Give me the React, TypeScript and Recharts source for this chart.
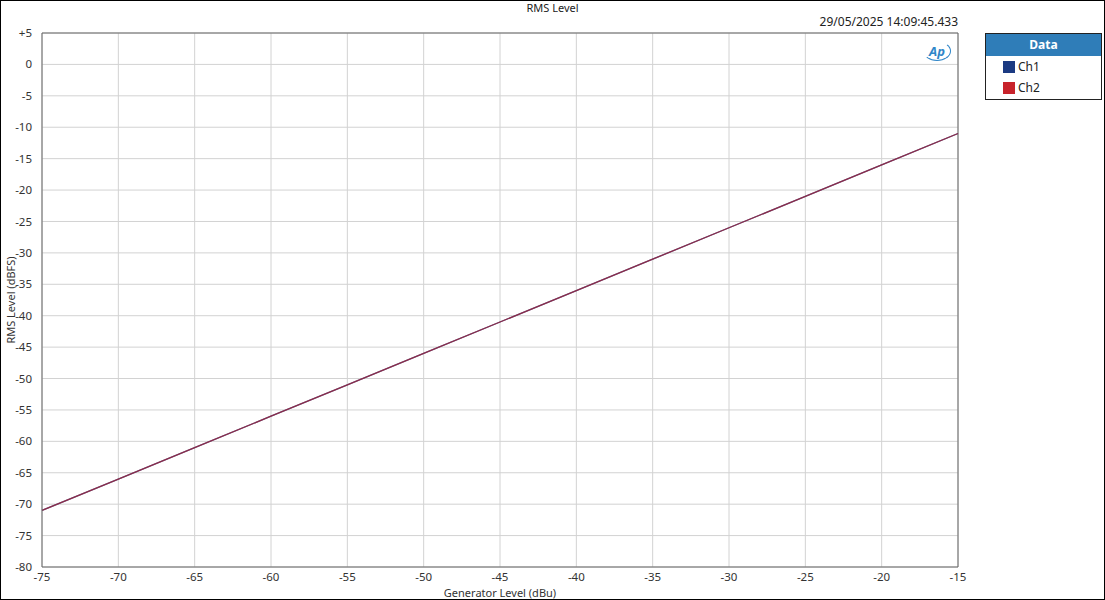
import React from 'react';
import {
  LineChart,
  Line,
  XAxis,
  YAxis,
  CartesianGrid,
  ReferenceLine,
} from 'recharts';

const GEN_LEVEL = [-75, -70, -65, -60, -55, -50, -45, -40, -35, -30, -25, -20, -15];
const CH1_RMS = [-71, -66, -61, -56, -51, -46, -41, -36, -31, -26, -21, -16, -11];
const CH2_RMS = [-71, -66, -61, -56, -51, -46, -41, -36, -31, -26, -21, -16, -11];
const X_TICKS = [-75, -70, -65, -60, -55, -50, -45, -40, -35, -30, -25, -20, -15];
const Y_TICKS = [-80, -75, -70, -65, -60, -55, -50, -45, -40, -35, -30, -25, -20, -15, -10, -5, 0, 5];

const SERIES = [
  { key: 'ch1', name: 'Ch1', color: '#1b3a82' },
  { key: 'ch2', name: 'Ch2', color: '#c8232b' },
];

const data = GEN_LEVEL.map((g, i) => ({ gen: g, ch1: CH1_RMS[i], ch2: CH2_RMS[i] }));

const FONT = '"Noto Sans", "Open Sans", sans-serif';

const LegendBox = () => (
  <div
    style={{
      position: 'absolute',
      left: 984,
      top: 32,
      width: 115,
      border: '1px solid #222',
      background: '#fff',
      fontFamily: FONT,
      fontSize: 12,
    }}
  >
    <div
      style={{
        background: '#2f7db8',
        color: '#fff',
        fontWeight: 'bold',
        textAlign: 'center',
        height: 22,
        lineHeight: '22px',
      }}
    >
      Data
    </div>
    <div style={{ padding: '0 0 1px 0' }}>
      {SERIES.map((s) => (
        <div key={s.key} style={{ display: 'flex', alignItems: 'center', height: 21, paddingLeft: 17 }}>
          <span style={{ width: 12, height: 12, background: s.color, display: 'inline-block', marginRight: 3 }} />
          <span style={{ color: '#222' }}>{s.name}</span>
        </div>
      ))}
    </div>
  </div>
);

export default function App() {
  return (
    <div
      style={{
        position: 'fixed',
        left: 0,
        top: 0,
        width: 1105,
        height: 600,
        boxSizing: 'border-box',
        border: '1px solid #000',
        background: '#fff',
        fontFamily: FONT,
      }}
    >
      <div style={{ position: 'absolute', left: 0, width: 1103, top: -1, textAlign: 'center', fontSize: 11, color: '#222' }}>
        RMS Level
      </div>
      <div style={{ position: 'absolute', right: 146, top: 12, fontSize: 12, color: '#222' }}>
        29/05/2025 14:09:45.433
      </div>
      <div
        style={{
          position: 'absolute',
          left: 922,
          top: 40,
          width: 26,
          height: 18,
          borderRadius: '50%',
          border: '1px solid #2f86c8',
          borderLeftColor: 'transparent',
          borderTopColor: 'transparent',
          color: '#2f86c8',
          fontStyle: 'italic',
          fontWeight: 'bold',
          fontSize: 13,
          lineHeight: '18px',
          textAlign: 'center',
        }}
      >
        Ap
      </div>
      <LineChart width={1103} height={598} data={data} margin={{ top: 32, right: 146, bottom: 0, left: 1 }}>
        <CartesianGrid stroke="#d2d2d2" />
        <XAxis
          dataKey="gen"
          type="number"
          domain={[-75, -15]}
          ticks={X_TICKS}
          height={32}
          tickLine={false}
          axisLine={{ stroke: '#666' }}
          tick={{ fill: '#333', fontSize: 11.5, fontFamily: FONT }}
          tickMargin={0}
          label={{ value: 'Generator Level (dBu)', position: 'insideBottom', offset: 2, fill: '#333', fontSize: 11, fontFamily: FONT }}
        />
        <YAxis
          type="number"
          domain={[-80, 5]}
          ticks={Y_TICKS}
          width={40}
          tickLine={false}
          axisLine={{ stroke: '#666' }}
          tick={{ fill: '#333', fontSize: 11.5, fontFamily: FONT }}
          tickMargin={4}
          tickFormatter={(v: number) => (v > 0 ? `+${v}` : `${v}`)}
          label={{ value: 'RMS Level (dBFS)', angle: -90, position: 'insideLeft', offset: 9, fill: '#333', fontSize: 11, fontFamily: FONT, style: { textAnchor: 'middle' } }}
        />
        <ReferenceLine y={5} stroke="#666" />
        <ReferenceLine x={-15} stroke="#666" />
        <Line type="linear" dataKey="ch1" name="Ch1" stroke="#1b3a82" strokeWidth={1.3} dot={false} isAnimationActive={false} />
        <Line type="linear" dataKey="ch2" name="Ch2" stroke="#c8232b" strokeOpacity={0.65} strokeWidth={1.3} dot={false} isAnimationActive={false} />
      </LineChart>
      <LegendBox />
    </div>
  );
}
